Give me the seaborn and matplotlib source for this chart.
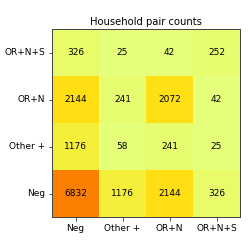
import numpy as np
import pandas as pd
import matplotlib
matplotlib.use("Agg")
import matplotlib.pyplot as plt
import seaborn as sns

categories = ["Neg", "Other +", "OR+N", "OR+N+S"]
row_neg = [6832, 1176, 2144, 326]
row_other = [1176, 58, 241, 25]
row_orn = [2144, 241, 2072, 42]
row_orns = [326, 25, 42, 252]

df = pd.DataFrame([row_neg, row_other, row_orn, row_orns], index=categories, columns=categories)
df_plot = df.iloc[::-1]

fig = plt.figure(figsize=(249/72, 249/72), dpi=72)
ax = fig.add_axes([52/249, 1 - 217/249, 188/249, 188/249])
sns.heatmap(df_plot, annot=True, fmt="d", cmap="Wistia", cbar=False, ax=ax,
            annot_kws={"fontsize": 9, "color": "black"})
for s in ax.spines.values():
    s.set_visible(True)
    s.set_color("#444444")
    s.set_linewidth(1)
ax.tick_params(axis="both", length=3.5, width=0.8, labelsize=9, color="#333333")
ax.set_xticklabels(categories, rotation=0)
ax.set_yticklabels(list(df_plot.index), rotation=0)
ax.set_xlabel("")
ax.set_ylabel("")
ax.set_title("Household pair counts", fontsize=10, pad=4)
fig.savefig("out.png", dpi=72)
